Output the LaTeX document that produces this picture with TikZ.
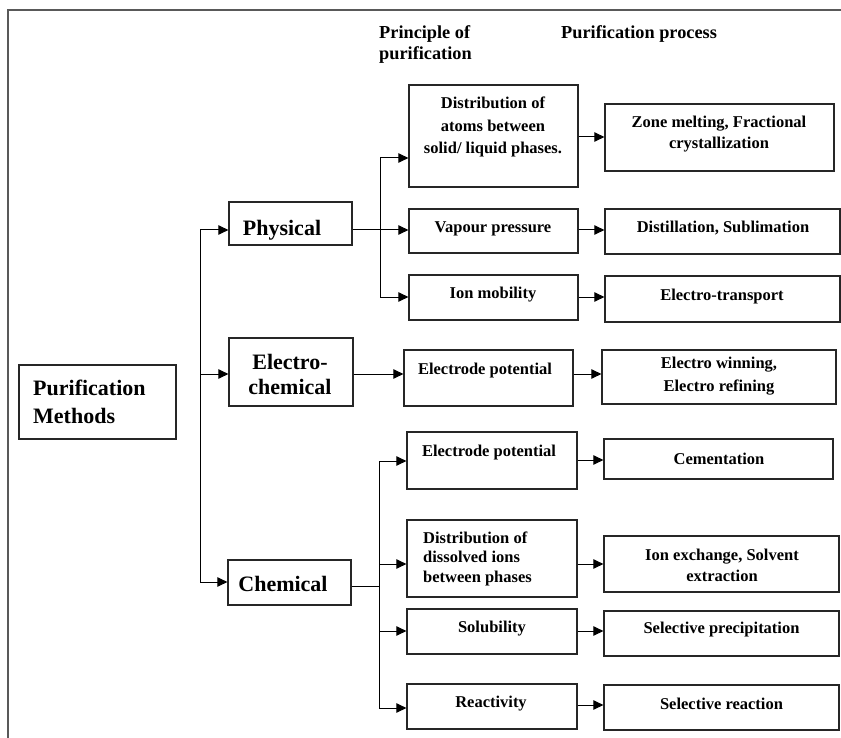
\documentclass[tikz,border=0pt]{standalone}
\usepackage{fontspec}
\setmainfont{Liberation Serif}
\usetikzlibrary{arrows.meta,fit}
\tikzset{
  box/.style={draw=black!85, line width=1.3pt, inner sep=0pt},
  big/.style={font=\fontsize{22}{26}\selectfont\bfseries, align=center, inner sep=0pt, yshift=-1.5pt},
  small/.style={font=\fontsize{16.5}{22.5}\selectfont\bfseries, align=center, inner sep=0pt, yshift=-1.5pt},
  head/.style={font=\fontsize{18.3}{21}\selectfont\bfseries, align=left, inner sep=0pt, yshift=-1.5pt},
  link/.style={line width=1pt, draw=black},
  arr/.style={link, -{Triangle[length=10pt,width=9.5pt]}},
  frame/.style={line width=1.6pt, draw=black!65},
}
\begin{document}
\begin{tikzpicture}[x=1pt,y=-1pt]
\useasboundingbox (0,0) rectangle (841,738);

% outer frame (top and left edges)
\draw[frame] (8,738) -- (8,10) -- (841,10);

% column headings
\node[head, anchor=west] (hprin) at (379,43.5) {Principle of\\purification};
\node[head, anchor=west] (hproc) at (561,33) {Purification process};

% root
\node[box, fit={(19,365)(176,439)}] (pm) {};
\node[big, font=\fontsize{22}{28}\selectfont\bfseries, align=left, anchor=west] (pmt) at (33,400) {Purification\\Methods};

% method classes
\node[box, fit={(229,202)(352,245)}] (phys) {};
\node[big] (physt) at (282,229) {Physical};
\node[box, fit={(229,338)(353,406)}] (ec) {};
\node[big, font=\fontsize{22}{25}\selectfont\bfseries] (ect) at (290,372.5) {Electro-\\chemical};
\node[box, fit={(228,560)(351,605)}] (chem) {};
\node[big] (chemt) at (283,582) {Chemical};

% physical: principles
\node[box, fit={(409,85)(578,187)}] (d1) {};
\node[small] (d1t) at (493,125.5) {Distribution of\\atoms between\\solid/ liquid phases.};
\node[box, fit={(409,209)(578,253)}] (vp) {};
\node[small] (vpt) at (493,227) {Vapour pressure};
\node[box, fit={(409,275)(578,320)}] (im) {};
\node[small] (imt) at (493,293) {Ion mobility};

% physical: processes
\node[box, fit={(605,104)(834,171)}] (zm) {};
\node[small, font=\fontsize{16.5}{21}\selectfont\bfseries] (zmt) at (719,132.5) {Zone melting, Fractional\\crystallization};
\node[box, fit={(605,209)(840,254)}] (ds) {};
\node[small] (dst) at (723,227) {Distillation, Sublimation};
\node[box, fit={(605,276)(840,322)}] (et) {};
\node[small] (ett) at (722,295) {Electro-transport};

% electrochemical
\node[box, fit={(404,350)(573,406)}] (ep1) {};
\node[small] (ep1t) at (485,369) {Electrode potential};
\node[box, fit={(602,350)(836,404)}] (ew) {};
\node[small, font=\fontsize{16.5}{23}\selectfont\bfseries] (ewt) at (719,375) {Electro winning,\\Electro refining};

% chemical: principles
\node[box, fit={(407,432)(577,489)}] (ep2) {};
\node[small] (ep2t) at (489,451) {Electrode potential};
\node[box, fit={(407,520)(577,597)}] (dd) {};
\node[small, font=\fontsize{16.5}{19.5}\selectfont\bfseries, align=left, anchor=west] (ddt) at (423,557) {Distribution of\\dissolved ions\\between phases};
\node[box, fit={(407,609)(577,654)}] (sol) {};
\node[small] (solt) at (492,627) {Solubility};
\node[box, fit={(407,684)(577,729)}] (re) {};
\node[small] (ret) at (491,702) {Reactivity};

% chemical: processes
\node[box, fit={(604,439)(833,479)}] (cem) {};
\node[small] (cemt) at (719,457) {Cementation};
\node[box, fit={(604,536)(839,592)}] (ie) {};
\node[small, font=\fontsize{16.5}{21}\selectfont\bfseries] (iet) at (722,563.5) {Ion exchange, Solvent\\extraction};
\node[box, fit={(604,611)(839,656)}] (sp) {};
\node[small] (spt) at (721.5,628) {Selective precipitation};
\node[box, fit={(604,685)(839,730)}] (sr) {};
\node[small] (srt) at (721.5,702) {Selective reaction};

% trunk from the root level to the three classes
\coordinate (t1) at (200,230);
\coordinate (t2) at (200,374);
\coordinate (t3) at (200,582);
\draw[link] (t1) -- (t3);
\draw[arr] (t1) -- (t1 -| phys.west);
\draw[arr] (t2) -- (t2 -| ec.west);
\draw[arr] (t3) -- (t3 -| chem.west);

% physical branch
\coordinate (p0) at (380,230);
\coordinate (p1) at (380,158);
\coordinate (p3) at (380,297);
\draw[link] (p0 -| phys.east) -- (p0);
\draw[link] (p1) -- (p3);
\draw[arr] (p1) -- (p1 -| d1.west);
\draw[arr] (p0) -- (p0 -| vp.west);
\draw[arr] (p3) -- (p3 -| im.west);
\coordinate (q1) at (0,137);
\draw[arr] (q1 -| d1.east) -- (q1 -| zm.west);
\draw[arr] (p0 -| vp.east) -- (p0 -| ds.west);
\draw[arr] (p3 -| im.east) -- (p3 -| et.west);

% electrochemical branch
\draw[arr] (t2 -| ec.east) -- (t2 -| ep1.west);
\draw[arr] (t2 -| ep1.east) -- (t2 -| ew.west);

% chemical branch
\coordinate (c0) at (379,586);
\coordinate (c1) at (379,461);
\coordinate (c2) at (379,564);
\coordinate (c3) at (379,631);
\coordinate (c4) at (379,708);
\draw[link] (c0 -| chem.east) -- (c0);
\draw[link] (c1) -- (c4);
\draw[arr] (c1) -- (c1 -| ep2.west);
\draw[arr] (c2) -- (c2 -| dd.west);
\draw[arr] (c3) -- (c3 -| sol.west);
\draw[arr] (c4) -- (c4 -| re.west);
\coordinate (r1) at (0,460);
\coordinate (r4) at (0,705);
\draw[arr] (r1 -| ep2.east) -- (r1 -| cem.west);
\draw[arr] (c2 -| dd.east) -- (c2 -| ie.west);
\draw[arr] (c3 -| sol.east) -- (c3 -| sp.west);
\draw[arr] (r4 -| re.east) -- (r4 -| sr.west);
\end{tikzpicture}
\end{document}
